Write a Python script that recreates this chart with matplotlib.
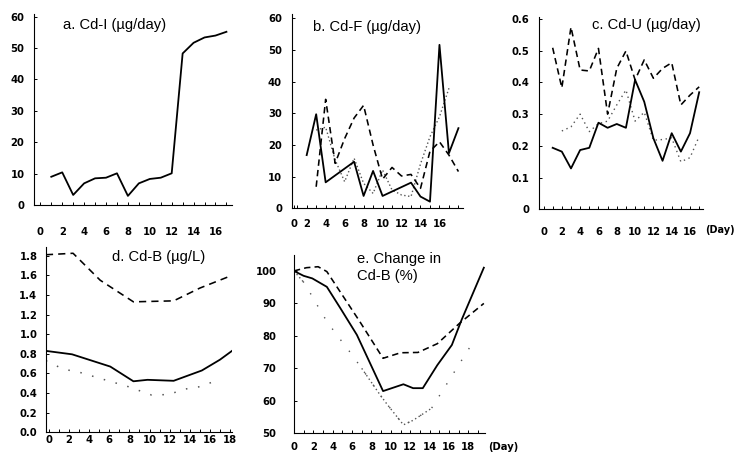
import matplotlib
matplotlib.use("Agg")
import matplotlib.pyplot as plt
from matplotlib.ticker import FixedLocator, MultipleLocator

# ---------------- data ----------------
# a. Cd-I (ug/day)
a_days = [1, 2, 3, 4, 5, 6, 7, 8, 9, 10, 11, 12, 13, 14, 15, 16, 17]
a_solid = [9.0, 10.4, 3.2, 6.9, 8.5, 8.7, 10.1, 2.9, 6.9, 8.3, 8.7, 10.1, 48.3, 51.7, 53.4, 54.0, 55.2]

# b. Cd-F (ug/day)
b_solid_days = [2, 3, 4, 7, 8, 9, 10, 13, 14, 15, 16, 17, 18]
b_solid = [16.8, 29.7, 8.2, 14.7, 3.9, 11.8, 3.9, 8.1, 3.7, 2.1, 51.6, 17.4, 25.3]
b_dash_days = [3, 4, 5, 6, 7, 8, 9, 10, 11, 12, 13, 14, 15, 16, 17, 18]
b_dash = [6.8, 34.4, 14.2, 22.0, 28.5, 32.5, 20.0, 9.2, 12.9, 10.2, 10.7, 6.3, 18.0, 21.0, 16.8, 11.6]
b_dot_days = [3, 4, 5, 6, 7, 8, 9, 10, 11, 12, 13, 14, 15, 16, 17]
b_dot = [24.7, 25.6, 15.3, 8.4, 15.8, 7.9, 4.7, 12.1, 5.8, 4.2, 3.7, 14.0, 22.6, 28.9, 37.9]

# c. Cd-U (ug/day)
c_days = [1, 2, 3, 4, 5, 6, 7, 8, 9, 10, 11, 12, 13, 14, 15, 16, 17]
c_solid = [0.194, 0.182, 0.129, 0.187, 0.194, 0.273, 0.257, 0.269, 0.257, 0.408, 0.339, 0.224, 0.153, 0.240, 0.182, 0.240, 0.369]
c_dash = [0.509, 0.383, 0.574, 0.439, 0.436, 0.507, 0.300, 0.444, 0.499, 0.408, 0.471, 0.413, 0.444, 0.462, 0.329, 0.360, 0.386]
c_dot_days = [2, 3, 4, 5, 6, 7, 8, 9, 10, 11, 12, 13, 14, 15, 16, 17]
c_dot = [0.247, 0.260, 0.300, 0.245, 0.270, 0.278, 0.329, 0.376, 0.278, 0.306, 0.218, 0.220, 0.225, 0.150, 0.163, 0.230]

# d. Cd-B (ug/L)
d_solid_days = [-0.3, 2.3, 6.1, 8.4, 9.8, 12.4, 15.2, 17.0, 18.2]
d_solid = [0.83, 0.795, 0.67, 0.52, 0.535, 0.525, 0.63, 0.74, 0.83]
d_dash_days = [-0.3, 2.4, 5.1, 8.4, 12.4, 15.0, 18.2]
d_dash = [1.81, 1.825, 1.55, 1.33, 1.34, 1.47, 1.60]
d_dot_days = [-0.3, 1.4, 3.1, 5.4, 7.9, 10.2, 11.9, 13.5, 15.0, 17.0]
d_dot = [0.73, 0.645, 0.61, 0.54, 0.465, 0.38, 0.385, 0.44, 0.465, 0.54]

# e. Change in Cd-B (%)
e_solid_days = [0, 1.0, 1.9, 3.4, 4.8, 6.5, 9.2, 11.3, 12.3, 13.3, 14.8, 16.3, 17.3, 19.6]
e_solid = [100, 98.5, 97.7, 95.1, 88.5, 80.3, 63.0, 65.1, 63.9, 63.9, 71.0, 77.2, 84.9, 101]
e_dash_days = [0, 1.3, 2.5, 3.4, 6.8, 9.2, 11.0, 12.8, 14.8, 17.1, 19.6]
e_dash = [100, 101, 101.3, 99.8, 84.4, 73.1, 74.8, 74.9, 77.6, 83.9, 90.0]
e_dot_days = [0, 1.1, 3.1, 4.4, 5.3, 7.0, 8.9, 9.6, 11.3, 12.3, 14.2, 18.3]
e_dot = [100, 96.2, 85.9, 80.3, 77.0, 70.0, 61.8, 59.0, 52.6, 54.0, 57.7, 77.2]

# tick labels
xt_a = [0, 2, 4, 6, 8, 10, 12, 14, 16]
xt_d = [0, 2, 4, 6, 8, 10, 12, 14, 16, 18]
yt_ab = [0, 10, 20, 30, 40, 50, 60]
yt_c = [0, 0.1, 0.2, 0.3, 0.4, 0.5, 0.6]
yl_c = ["0", "0.1", "0.2", "0.3", "0.4", "0.5", "0.6"]
yt_d = [0.0, 0.2, 0.4, 0.6, 0.8, 1.0, 1.2, 1.4, 1.6, 1.8]
yl_d = ["0.0", "0.2", "0.4", "0.6", "0.8", "1.0", "1.2", "1.4", "1.6", "1.8"]
yt_e = [50, 60, 70, 80, 90, 100]

titles = ["a. Cd-I (µg/day)", "b. Cd-F (µg/day)", "c. Cd-U (µg/day)",
          "d. Cd-B (µg/L)", "e. Change in\nCd-B (%)"]
day_label = "(Day)"

# ---------------- drawing ----------------
W, H = 738, 454
fig = plt.figure(figsize=(W / 100, H / 100), dpi=100)
plt.rcParams["font.family"] = ["Liberation Sans", "DejaVu Sans"]

def make_axes(left, right, top, bottom):
    return fig.add_axes([left / W, 1 - bottom / H, (right - left) / W, (bottom - top) / H])

SOLID = dict(color="black", lw=1.3, ls="-")
DASH = dict(color="black", lw=1.15, ls=(0, (4.0, 2.6)))
DOT = dict(color="#555555", lw=1.0, ls=(0, (1, 1.8)))
TICKFONT = dict(family="DejaVu Sans", size=7.2, weight="bold")

def style(ax, xlim, ylim, xticks, yticks, ylabels, xpad, ypad, xpos=None):
    ax.set_xlim(*xlim)
    ax.set_ylim(*ylim)
    for s in ("top", "right"):
        ax.spines[s].set_visible(False)
    for s in ("left", "bottom"):
        ax.spines[s].set_linewidth(0.8)
    ax.xaxis.set_major_locator(FixedLocator(xpos if xpos is not None else xticks))
    ax.set_xticklabels([str(t) for t in xticks])
    ax.xaxis.set_minor_locator(MultipleLocator(1))
    ax.yaxis.set_major_locator(FixedLocator(yticks))
    ax.set_yticklabels(ylabels)
    ax.tick_params(axis="x", which="both", direction="in", length=2.5, width=0.7, pad=xpad)
    ax.tick_params(axis="y", which="major", direction="in", length=2.0, width=0.7, pad=ypad)
    for lab in ax.get_xticklabels() + ax.get_yticklabels():
        lab.set_fontproperties(matplotlib.font_manager.FontProperties(**TICKFONT))

# panel a
ax = make_axes(34.1, 231.9, 13.6, 205.0)
ax.plot(a_days, a_solid, **SOLID)
style(ax, (-0.57, 17.5), (0, 61), xt_a, yt_ab, [str(v) for v in yt_ab], 15.5, 7)

# panel b
ax = make_axes(291.7, 462.7, 13.5, 208.3)
ax.plot(b_dot_days, b_dot, **DOT)
ax.plot(b_dash_days, b_dash, **DASH)
ax.plot(b_solid_days, b_solid, **SOLID)
b_xlim = (0.42, 18.45)
style(ax, b_xlim, (0, 61.5), xt_a, yt_ab, [str(v) for v in yt_ab], 8, 7,
      xpos=[b_xlim[0] + 0.25] + xt_a[1:])

# panel c
ax = make_axes(539.3, 703.3, 17.3, 209.4)
ax.plot(c_dot_days, c_dot, color="#555555", lw=1.0, ls=(0, (1, 2.6)))
ax.plot(c_days, c_dash, **DASH)
ax.plot(c_days, c_solid, **SOLID)
style(ax, (-0.46, 17.45), (0, 0.605), xt_a, yt_c, yl_c, 12.5, 7)

# panel d
ax = make_axes(45.7, 232.0, 246.9, 432.3)
ax.plot(d_dot_days, d_dot, color="#555555", lw=1.1, ls=(0, (1, 7)))
ax.plot(d_dash_days, d_dash, color="black", lw=1.15, ls=(0, (4.5, 3.2)))
ax.plot(d_solid_days, d_solid, **SOLID)
style(ax, (-0.32, 18.2), (0, 1.89), xt_d, yt_d, yl_d, 2.2, 6)

# panel e
ax = make_axes(293.9, 485.3, 254.7, 433.3)
ax.plot(e_dot_days, e_dot, color="#555555", lw=1.0, ls=(0, (1, 9)))
ax.plot(e_dot_days[:2], e_dot[:2], color="#555555", lw=1.0, ls=(0, (1, 2)))
ax.plot(e_dot_days[5:11], e_dot[5:11], color="#555555", lw=1.0, ls=(0, (1, 2)))
ax.plot(e_dash_days, e_dash, **DASH)
ax.plot(e_solid_days, e_solid, **SOLID)
style(ax, (0, 19.75), (50, 105), xt_d, yt_e, [str(v) for v in yt_e], 6.0, 12.5)

# titles
TFS = 10.6
fig.text(63 / W, 1 - 25 / H, titles[0], fontsize=TFS, ha="left", va="center")
fig.text(312.7 / W, 1 - 26.7 / H, titles[1], fontsize=TFS, ha="left", va="center")
fig.text(591.7 / W, 1 - 25 / H, titles[2], fontsize=TFS, ha="left", va="center")
fig.text(111.7 / W, 1 - 257.3 / H, titles[3], fontsize=TFS, ha="left", va="center")
fig.text(356.7 / W, 1 - 267.5 / H, titles[4], fontsize=TFS, ha="left", va="center",
         linespacing=1.25)

fig.text(735 / W, 1 - 230 / H, day_label, fontsize=7.0, fontweight="bold",
         family="DejaVu Sans", ha="right", va="center")
fig.text(503 / W, 1 - 446.7 / H, day_label, fontsize=7.2, fontweight="bold",
         family="DejaVu Sans", ha="center", va="center")

fig.savefig("out.png", dpi=100)
